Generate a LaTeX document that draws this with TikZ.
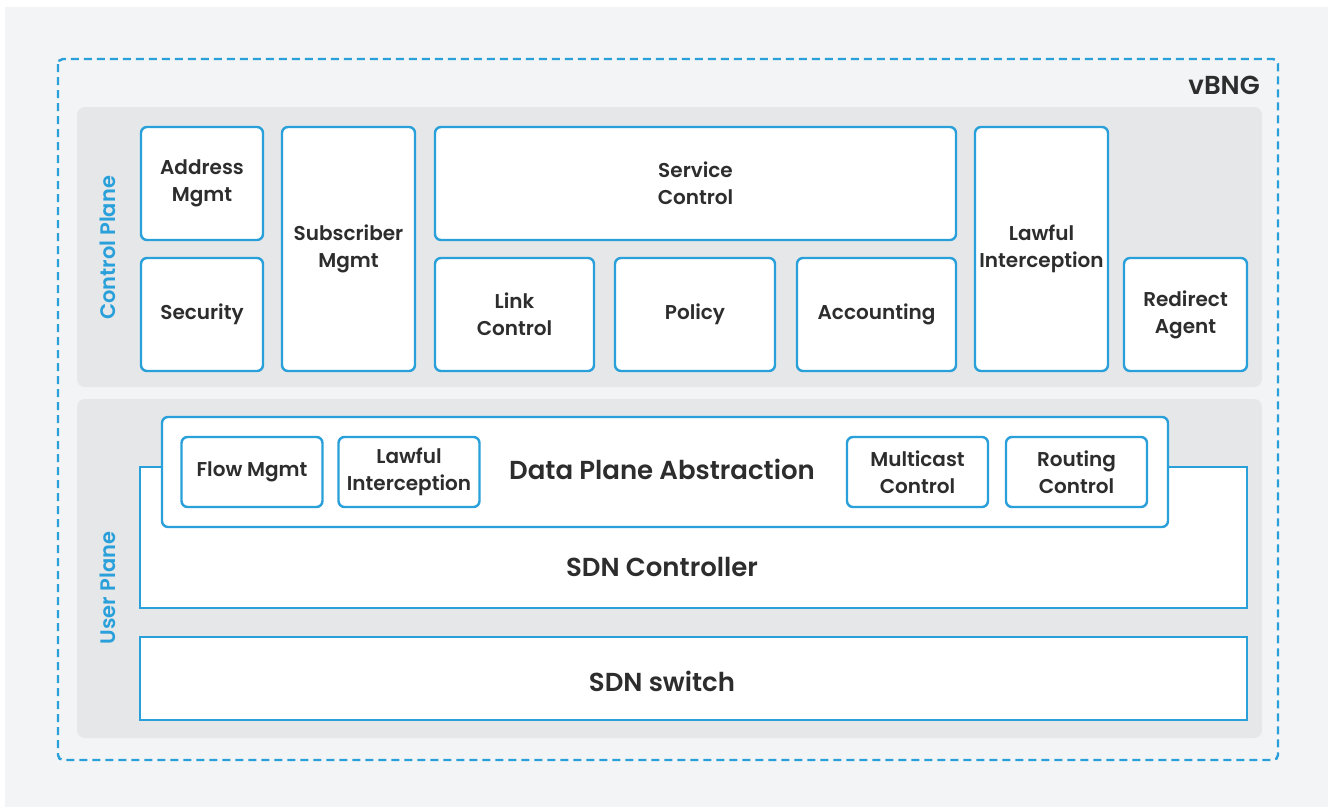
\documentclass[tikz,border=0pt]{standalone}
\usepackage{fontspec}
\setmainfont{Poppins}[BoldFont={Poppins SemiBold}]
\definecolor{bgout}{HTML}{F3F4F5}
\definecolor{panel}{HTML}{E6E7E9}
\definecolor{vblue}{HTML}{2AA0DA}
\definecolor{ink}{HTML}{2D2D2D}
\tikzset{
  box/.style={draw=vblue, line width=2.4pt, fill=white, rounded corners=6pt,
    align=center, text=ink, font=\fontsize{20}{27}\selectfont\bfseries, inner sep=0pt},
  flatbox/.style={draw=vblue, line width=2.4pt, fill=white, inner sep=0pt},
  sbox/.style={box, minimum width=141pt, minimum height=70pt, font=\fontsize{20}{27}\selectfont\bfseries},
  planelabel/.style={rotate=90, text=vblue, font=\fontsize{21}{24}\selectfont\bfseries, inner sep=0pt},
  biglabel/.style={text=ink, font=\fontsize{26}{30}\selectfont\bfseries, inner sep=0pt},
  panelbox/.style={fill=panel, rounded corners=8pt},
}
\begin{document}
\begin{tikzpicture}[x=1pt, y=-1pt]
\useasboundingbox (0,0) rectangle (1328,807);
% page background
\fill[bgout] (5,7) rectangle (1328,807);
% outer vBNG frame
\draw[vblue, line width=2.4pt, dash pattern=on 8pt off 5pt, rounded corners=5pt] (58,59) rectangle (1278,760);
\node[biglabel, anchor=east] (vbng) at (1260,85) {vBNG};

% control plane
\fill[panelbox] (77,107) rectangle (1262,387);
\node[planelabel] (cplabel) at (108,248) {Control Plane};
\node[box, minimum width=122pt, minimum height=113pt] (addr) at (202,183.5) {Address\\Mgmt};
\node[box, minimum width=122pt, minimum height=113pt] (sec) at (202,314.5) {Security};
\node[box, minimum width=133pt, minimum height=244pt] (subs) at (348.5,249) {Subscriber\\Mgmt};
\node[box, minimum width=521pt, minimum height=113pt] (svc) at (695.5,183.5) {Service\\Control};
\node[box, minimum width=159pt, minimum height=113pt] (link) at (514.5,314.5) {Link\\Control};
\node[box, minimum width=160pt, minimum height=113pt] (pol) at (695,314.5) {Policy};
\node[box, minimum width=159pt, minimum height=113pt] (acc) at (876.5,314.5) {Accounting};
\node[box, minimum width=133pt, minimum height=244pt] (li) at (1041.5,249) {Lawful\\Interception};
\node[box, minimum width=123pt, minimum height=113pt] (redir) at (1185.5,314.5) {Redirect\\Agent};

% user plane
\fill[panelbox] (77,399) rectangle (1262,738);
\node[planelabel] (uplabel) at (108,588) {User Plane};
\node[flatbox, minimum width=1107pt, minimum height=141pt] (sdnc) at (693.5,537.5) {};
\node[biglabel] (sdnctext) at (662,567) {SDN Controller};
\node[box, minimum width=1006pt, minimum height=110pt] (dpa) at (665,472) {};
\node[biglabel] (dpatext) at (662,469) {Data Plane Abstraction};
\node[sbox] (flow) at (252,472) {Flow Mgmt};
\node[sbox] (uli) at (409,472) {Lawful\\Interception};
\node[sbox] (mc) at (917.5,472) {Multicast\\Control};
\node[sbox] (rc) at (1076.5,472) {Routing\\Control};
\node[flatbox, minimum width=1107pt, minimum height=83pt] (sw) at (693.5,678.5) {};
\node[biglabel] (swtext) at (662,681) {SDN switch};
\end{tikzpicture}
\end{document}
